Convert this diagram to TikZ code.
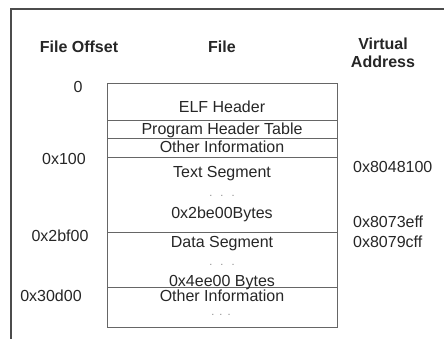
\documentclass[tikz,border=0pt]{standalone}
\usepackage{fontspec}
\setmainfont{Liberation Sans}
\usetikzlibrary{positioning}
\tikzset{%
  hd/.style = {font=\bfseries\fontsize{16}{18}\selectfont,
        inner sep=0pt, anchor=base, text=black!85},
  t/.style = {font=\fontsize{16}{18}\selectfont,
        inner sep=0pt, anchor=base, text=black!85},
  va/.style = {t, anchor=base west},
  dots/.style = {font=\fontsize{11}{12}\selectfont,
        inner sep=0pt, text=black!45},
  sep/.style = {draw=black!60, line width=0.9pt}
}
\begin{document}
\begin{tikzpicture}[x=1pt,y=-1pt]
\useasboundingbox (0,0) rectangle (444,339);
% frame
\draw[black!70, line width=1.1pt] (444,9) -- (11,9) -- (11,339);
% headings
\node[hd] (hoff) at (79,53) {File Offset};
\node[hd] (hfile) at (222,53) {File};
\node[hd] (hvirt) at (383,50) {Virtual};
\node[hd] (haddr) at (383,68) {Address};
% the file
\draw[sep] (107,83) rectangle (337,327);
\foreach \y in {120,138,157,232,287}
    \draw[sep] (107,\y) -- (337,\y);
\node[t] (elf) at (222,113) {ELF Header};
\node[t] (pht) at (222,135) {Program Header Table};
\node[t] (oth1) at (222,153) {Other Information};
\node[t] (txt) at (222,178) {Text Segment};
\node[dots] (d1) at (222,196) {.\hspace{8pt}.\hspace{8pt}.};
\node[t] (txtsz) at (222,218) {0x2be00Bytes};
\node[t] (dat) at (222,247) {Data Segment};
\node[dots] (d2) at (222,265) {.\hspace{8pt}.\hspace{8pt}.};
\node[t] (datsz) at (222,286) {0x4ee00 Bytes};
\node[t] (oth2) at (222,301) {Other Information};
\node[dots] (d3) at (221,315) {.\hspace{5pt}.\hspace{5pt}.};
% offsets
\node[t] (o0) at (78,93) {0};
\node[t] (o100) at (64,165) {0x100};
\node[t] (o2bf) at (60,241) {0x2bf00};
\node[t] (o30d) at (51,301) {0x30d00};
% addresses
\node[va] (a1) at (353,173) {0x8048100};
\node[va] (a2) at (353,227) {0x8073eff};
\node[va] (a3) at (353,247) {0x8079cff};
\end{tikzpicture}
\end{document}
